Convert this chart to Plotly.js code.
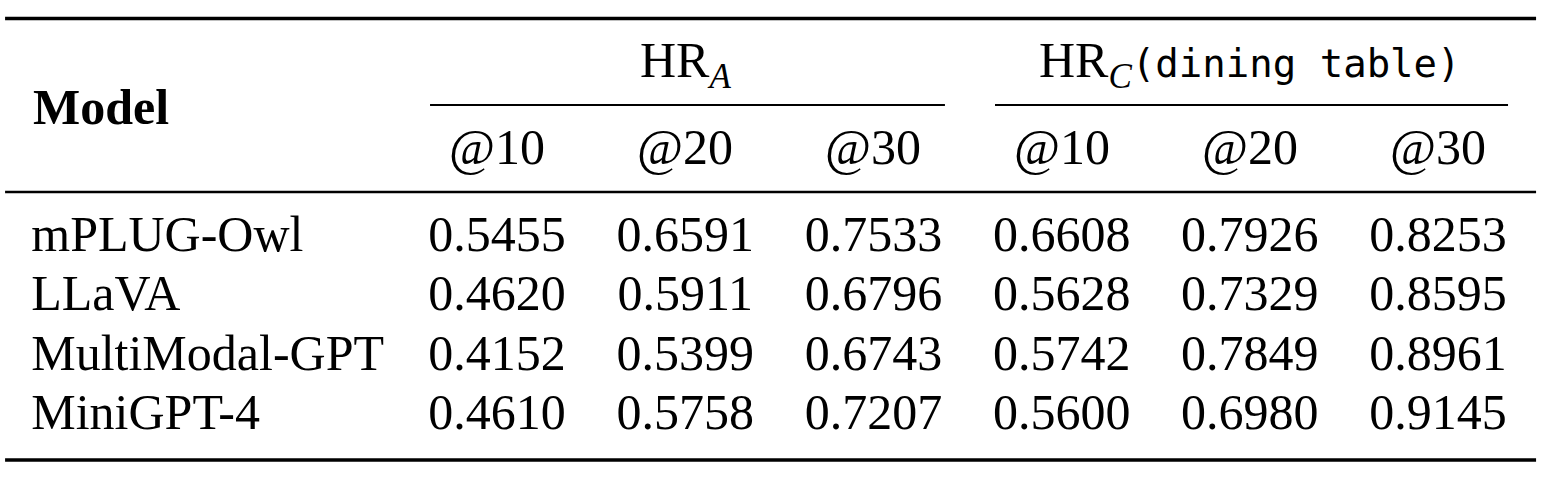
<!DOCTYPE html>
<html>
<head>
<meta charset="utf-8">
<script src="https://cdn.plot.ly/plotly-3.0.1.min.js"></script>
<style>
  html, body { margin: 0; padding: 0; background: #ffffff; }
  #chart { width: 1550px; height: 478px; }
</style>
</head>
<body>
<div id="chart"></div>
<script>
// ---------------- DATA ----------------
const models = ['mPLUG-Owl', 'LLaVA', 'MultiModal-GPT', 'MiniGPT-4'];
const groupLabels = ['HR<sub><i>A</i></sub>', 'HR<sub><i>C</i></sub>'];
const groupSuffix = ['', '(dining table)'];
const kLabels = ['@10', '@20', '@30'];
const modelHeader = 'Model';

const hrA_10 = [0.5455, 0.4620, 0.4152, 0.4610];
const hrA_20 = [0.6591, 0.5911, 0.5399, 0.5758];
const hrA_30 = [0.7533, 0.6796, 0.6743, 0.7207];
const hrC_10 = [0.6608, 0.5628, 0.5742, 0.5600];
const hrC_20 = [0.7926, 0.7329, 0.7849, 0.6980];
const hrC_30 = [0.8253, 0.8595, 0.8961, 0.9145];

const columns = [hrA_10, hrA_20, hrA_30, hrC_10, hrC_20, hrC_30];

// ---------------- LAYOUT GEOMETRY (table units) ----------------
// x: data column index (0..5); y: body row index (0..3)
const GEO = {
  xRange: [-2.641, 5.595],
  yRange: [4.039, -4.022],
  modelX: -2.475,
  kRowY: -1.551,
  groupRowY: -2.95,
  headerModelY: -2.22,
  topRuleY: -3.71,
  cmidRuleY: -2.251,
  midRuleY: -0.784,
  bottomRuleY: 3.735,
  ruleX: [-2.614, 5.521],
  cmid: [[-0.356, 2.380], [2.646, 5.372]],
  heavy: 3.6, light: 2.4, cmidW: 1.8
};

const SERIF = '"Liberation Serif", "Times New Roman", Times, serif';
const MONO = 'DejaVu Sans Mono';
const FS = 50;
const MONO_FS = 39;
const rowIdx = models.map((_, i) => i);

const traces = [];
// model names column
traces.push({
  type: 'scatter', mode: 'text',
  x: models.map(() => GEO.modelX), y: rowIdx,
  text: models, textposition: 'middle right',
  textfont: { family: SERIF, size: FS, color: '#000' },
  hoverinfo: 'skip', showlegend: false, cliponaxis: false
});
// numeric columns
columns.forEach((vals, c) => {
  traces.push({
    type: 'scatter', mode: 'text',
    x: vals.map(() => c), y: rowIdx,
    text: vals.map(v => v.toFixed(4)), textposition: 'middle center',
    textfont: { family: SERIF, size: FS, color: '#000' },
    hoverinfo: 'skip', showlegend: false, cliponaxis: false
  });
});

// headers
const annotations = [];
annotations.push({
  xref: 'x', yref: 'y', x: GEO.modelX, y: GEO.headerModelY,
  text: '<b>' + modelHeader + '</b>', showarrow: false,
  xanchor: 'left', yanchor: 'middle',
  font: { family: SERIF, size: FS, color: '#000' }
});
groupLabels.forEach((g, gi) => {
  const suffix = groupSuffix[gi]
    ? '<span style="font-family:' + MONO + ';font-size:' + MONO_FS + 'px">' + groupSuffix[gi] + '</span>'
    : '';
  annotations.push({
    xref: 'x', yref: 'y', x: gi * 3 + 1, y: GEO.groupRowY,
    text: g + suffix, showarrow: false,
    xanchor: 'center', yanchor: 'middle',
    font: { family: SERIF, size: FS, color: '#000' }
  });
});
columns.forEach((_, c) => {
  annotations.push({
    xref: 'x', yref: 'y', x: c, y: GEO.kRowY,
    text: kLabels[c % 3], showarrow: false,
    xanchor: 'center', yanchor: 'middle',
    font: { family: SERIF, size: FS, color: '#000' }
  });
});

// rules
function hline(x0, x1, y, w) {
  return { type: 'line', xref: 'x', yref: 'y', x0: x0, x1: x1, y0: y, y1: y,
           line: { color: '#000', width: w } };
}
const shapes = [
  hline(GEO.ruleX[0], GEO.ruleX[1], GEO.topRuleY, GEO.heavy),
  hline(GEO.cmid[0][0], GEO.cmid[0][1], GEO.cmidRuleY, GEO.cmidW),
  hline(GEO.cmid[1][0], GEO.cmid[1][1], GEO.cmidRuleY, GEO.cmidW),
  hline(GEO.ruleX[0], GEO.ruleX[1], GEO.midRuleY, GEO.light),
  hline(GEO.ruleX[0], GEO.ruleX[1], GEO.bottomRuleY, GEO.heavy)
];

const layout = {
  width: 1550, height: 478,
  margin: { l: 0, r: 0, t: 0, b: 0, pad: 0 },
  paper_bgcolor: '#ffffff', plot_bgcolor: '#ffffff',
  xaxis: { range: GEO.xRange, visible: false, fixedrange: true },
  yaxis: { range: GEO.yRange, visible: false, fixedrange: true },
  showlegend: false, hovermode: false,
  annotations: annotations, shapes: shapes
};

Plotly.newPlot('chart', traces, layout, { staticPlot: true, displayModeBar: false });
</script>
</body>
</html>
